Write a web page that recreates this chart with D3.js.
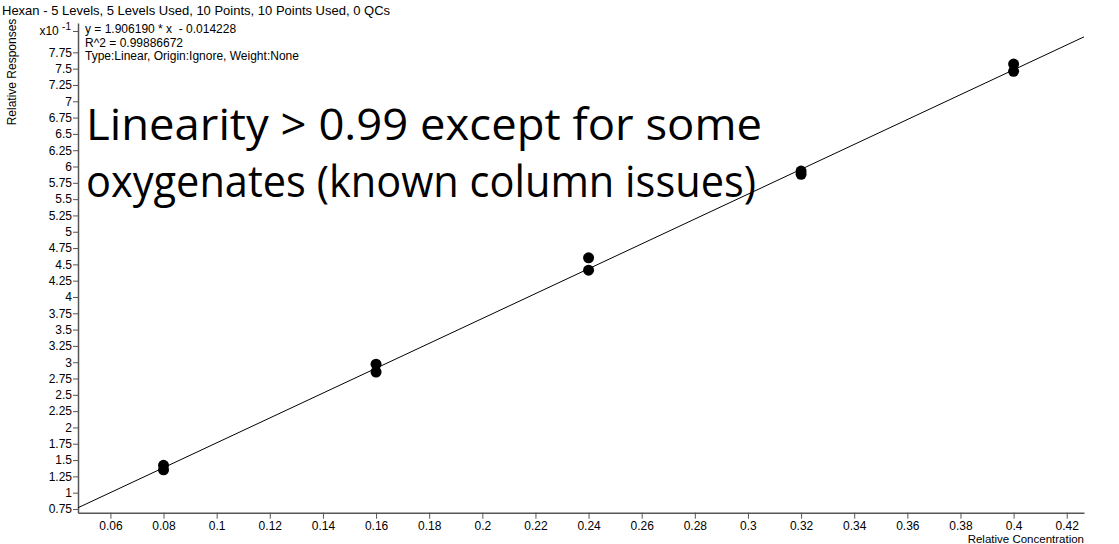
<!DOCTYPE html>
<html>
<head>
<meta charset="utf-8">
<script src="https://cdn.jsdelivr.net/npm/d3@7/dist/d3.min.js"></script>
<style>
  html, body { margin: 0; padding: 0; background: #fff; }
  svg { display: block; font-family: "Liberation Sans", Arial, sans-serif; }
</style>
</head>
<body>
<div id="chart"></div>
<script>
// calibration data (response shown in units of x10^-1)
var concentration = [0.08, 0.08, 0.16, 0.16, 0.24, 0.24, 0.32, 0.32, 0.40, 0.40];
var response = [1.42, 1.35, 2.97, 2.85, 4.60, 4.41, 5.93, 5.88, 7.57, 7.46];

var xTicks = [0.06, 0.08, 0.1, 0.12, 0.14, 0.16, 0.18, 0.2, 0.22, 0.24, 0.26, 0.28, 0.3, 0.32, 0.34, 0.36, 0.38, 0.4, 0.42];
var yTicks = [0.75, 1, 1.25, 1.5, 1.75, 2, 2.25, 2.5, 2.75, 3, 3.25, 3.5, 3.75, 4, 4.25, 4.5, 4.75, 5, 5.25, 5.5, 5.75, 6, 6.25, 6.5, 6.75, 7, 7.25, 7.5, 7.75];

var slope = 1.906190, intercept = -0.014228;
var title = "Hexan - 5 Levels, 5 Levels Used, 10 Points, 10 Points Used, 0 QCs";
var fitLines = ["y = 1.906190 * x  - 0.014228", "R^2 = 0.99886672", "Type:Linear, Origin:Ignore, Weight:None"];
var noteLines = ["Linearity > 0.99 except for some", "oxygenates (known column issues)"];

var width = 1119, height = 544;
var svg = d3.select("#chart").append("svg")
    .attr("width", width)
    .attr("height", height);

var x = d3.scaleLinear().domain([0.0478, 0.4265]).range([78, 1084]);
var y = d3.scaleLinear().domain([0.693, 8.2]).range([512.7, 23]);

// title
svg.append("text")
    .attr("x", 2).attr("y", 15)
    .style("font-size", "13px")
    .text(title);

// x axis
var xAxis = d3.axisBottom(x)
    .tickValues(xTicks)
    .tickSize(6)
    .tickSizeOuter(0)
    .tickFormat(d3.format("~g"));
var gx = svg.append("g")
    .attr("transform", "translate(0," + y.range()[0] + ")")
    .call(xAxis);
gx.select(".domain").attr("stroke", "#555").attr("stroke-width", 1.5);
gx.selectAll(".tick line").attr("stroke", "#555");
gx.selectAll(".tick text").style("font-size", "12px").attr("fill", "#000").attr("dy", "0.66em");

svg.append("text")
    .attr("x", 1084).attr("y", 543)
    .attr("text-anchor", "end")
    .style("font-size", "11.5px")
    .text("Relative Concentration");

// y axis
var yAxis = d3.axisLeft(y)
    .tickValues(yTicks)
    .tickSize(5)
    .tickSizeOuter(0)
    .tickFormat(d3.format("~g"));
var gy = svg.append("g")
    .attr("transform", "translate(" + x.range()[0] + ",0)")
    .call(yAxis);
gy.select(".domain").attr("stroke", "#555").attr("stroke-width", 1.5);
gy.selectAll(".tick line").attr("stroke", "#555");
gy.selectAll(".tick text").style("font-size", "12px").attr("fill", "#000").attr("x", -6);

// exponent marker at the top of the y axis
gy.append("line")
    .attr("x1", -5).attr("x2", 0)
    .attr("y1", y(8.07)).attr("y2", y(8.07))
    .attr("stroke", "#555");
var expo = gy.append("text")
    .attr("x", -7).attr("y", y(8.07) + 4)
    .attr("text-anchor", "end")
    .attr("fill", "#000")
    .style("font-size", "12px");
expo.append("tspan").text("x10 ");
expo.append("tspan").attr("dy", -5).style("font-size", "10px").text("-1");

svg.append("text")
    .attr("transform", "translate(16,72) rotate(-90)")
    .attr("text-anchor", "middle")
    .style("font-size", "12px")
    .text("Relative Responses");

// fit info
svg.selectAll(".fit")
    .data(fitLines)
    .enter().append("text")
    .attr("class", "fit")
    .attr("x", 85)
    .attr("y", function(d, i) { return 33 + i * 13.5; })
    .style("font-size", "12px")
    .style("white-space", "pre")
    .text(function(d) { return d; });

// regression line
var x0 = x.domain()[0], x1 = x.domain()[1];
svg.append("line")
    .attr("x1", x(x0)).attr("y1", y(10 * (slope * x0 + intercept)))
    .attr("x2", x(x1)).attr("y2", y(10 * (slope * x1 + intercept)))
    .attr("stroke", "#000")
    .attr("stroke-width", 1);

// points
svg.selectAll(".pt")
    .data(concentration)
    .enter().append("circle")
    .attr("class", "pt")
    .attr("cx", function(d) { return x(d); })
    .attr("cy", function(d, i) { return y(response[i]); })
    .attr("r", 5.5)
    .attr("fill", "#000");

// big annotation
svg.selectAll(".note")
    .data(noteLines)
    .enter().append("text")
    .attr("class", "note")
    .attr("x", 86)
    .attr("y", function(d, i) { return 140 + i * 57; })
    .attr("textLength", function(d, i) { return i === 0 ? 676 : 670; })
    .attr("lengthAdjust", "spacingAndGlyphs")
    .style("font-family", "'Open Sans', sans-serif")
    .style("font-size", "44px")
    .text(function(d) { return d; });
</script>
</body>
</html>
